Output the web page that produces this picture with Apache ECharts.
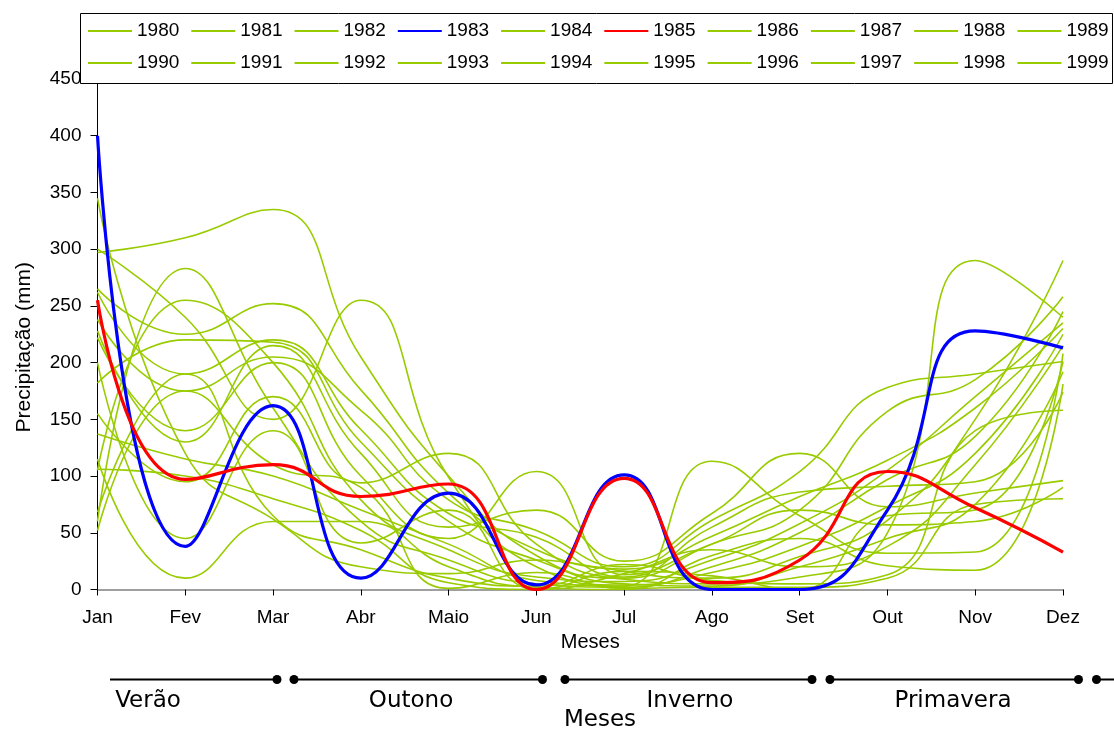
<!DOCTYPE html>
<html>
<head>
<meta charset="utf-8">
<title>Precipitação mensal 1980-1999</title>
<script src="https://cdn.jsdelivr.net/npm/echarts@6/dist/echarts.min.js"></script>
<style>
  html, body { margin: 0; padding: 0; background: #fff; }
  #main { width: 1114px; height: 731px; }
</style>
</head>
<body>
<div id="main"></div>
<script>
// months on the x axis
var months = ['Jan', 'Fev', 'Mar', 'Abr', 'Maio', 'Jun', 'Jul', 'Ago', 'Set', 'Out', 'Nov', 'Dez'];
var years = ['1980', '1981', '1982', '1983', '1984', '1985', '1986', '1987', '1988', '1989',
             '1990', '1991', '1992', '1993', '1994', '1995', '1996', '1997', '1998', '1999'];

// monthly rainfall (mm)
var p1980 = [297, 310, 335, 205, 100, 30, 10, 40, 70, 157, 185, 258];
var p1981 = [60, 283, 160, 60, 26, 5, 2, 20, 50, 97, 135, 245];
var p1982 = [105, 255, 200, 79, 35, 11, 7, 26, 58, 105, 170, 235];
var p1983 = [400, 38, 162, 10, 85, 4, 101, 0, 0, 70, 228, 213];
var p1984 = [265, 225, 252, 176, 85, 35, 16, 10, 29, 61, 150, 290];
var p1985 = [255, 97, 110, 82, 93, 0, 98, 6, 26, 104, 72, 33];
var p1986 = [345, 120, 62, 20, 14, 26, 18, 47, 82, 114, 160, 230];
var p1987 = [300, 240, 150, 255, 99, 20, 4, 15, 38, 73, 120, 225];
var p1988 = [262, 190, 220, 141, 67, 46, 11, 55, 86, 91, 95, 174];
var p1989 = [238, 175, 205, 158, 79, 52, 20, 61, 104, 178, 190, 201];
var p1990 = [228, 130, 215, 120, 55, 70, 25, 67, 120, 73, 85, 96];
var p1991 = [222, 140, 200, 100, 45, 104, 13, 40, 70, 57, 60, 90];
var p1992 = [182, 220, 218, 130, 60, 26, 5, 3, 20, 45, 75, 192];
var p1993 = [155, 95, 170, 94, 120, 40, 9, 5, 11, 50, 290, 240];
var p1994 = [137, 115, 100, 70, 40, 8, 3, 113, 65, 32, 33, 208];
var p1995 = [115, 10, 60, 60, 20, 2, 0, 30, 45, 21, 17, 181];
var p1996 = [106, 100, 80, 52, 6, 0, 14, 35, 20, 38, 110, 215];
var p1997 = [68, 190, 65, 35, 10, 3, 22, 8, 5, 13, 140, 158];
var p1998 = [52, 175, 110, 90, 1, 15, 1, 2, 2, 10, 75, 80];
var p1999 = [200, 45, 140, 41, 70, 0, 16, 12, 0, 65, 70, 201];

var precip = [p1980, p1981, p1982, p1983, p1984, p1985, p1986, p1987, p1988, p1989,
              p1990, p1991, p1992, p1993, p1994, p1995, p1996, p1997, p1998, p1999];

var seasons = ['Verão', 'Outono', 'Inverno', 'Primavera'];

var GREEN = '#99cc00';
var FONT = '"Liberation Sans", Arial, sans-serif';
var SEASON_FONT = '"DejaVu Sans", sans-serif';

var series = years.map(function (y, i) {
    var color = GREEN, width = 1.6, z = 2;
    if (y === '1983') { color = '#0000ff'; width = 3.2; z = 3; }
    if (y === '1985') { color = '#ff0000'; width = 3.2; z = 4; }
    return {
        name: y,
        type: 'line',
        data: precip[i],
        smooth: 0.5,
        symbol: 'none',
        z: z,
        lineStyle: { color: color, width: width },
        itemStyle: { color: color }
    };
});

// season bar under the chart: line segments with dots at the ends
var LINE_Y = 679.5;
var segs = [[110, 277, false, true], [294, 542.5, true, true], [565, 812, true, true],
            [830, 1078.5, true, true], [1096.5, 1114, true, false]];
var graphics = [{
    type: 'rect', z: 3,
    shape: { x: 80.5, y: 13.5, width: 1032, height: 70 },
    style: { fill: '#fff', stroke: '#000', lineWidth: 1 }
}];
segs.forEach(function (s) {
    graphics.push({ type: 'line', shape: { x1: s[0], y1: LINE_Y, x2: s[1], y2: LINE_Y },
                    style: { stroke: '#000', lineWidth: 2 } });
    if (s[2]) graphics.push({ type: 'circle', shape: { cx: s[0], cy: LINE_Y, r: 4.5 }, style: { fill: '#000' } });
    if (s[3]) graphics.push({ type: 'circle', shape: { cx: s[1], cy: LINE_Y, r: 4.5 }, style: { fill: '#000' } });
});
var seasonX = [148, 411, 690, 953];
seasons.forEach(function (name, i) {
    graphics.push({ type: 'text', x: seasonX[i], y: 701,
        style: { text: name, font: '23px ' + SEASON_FONT, fill: '#000', align: 'center', verticalAlign: 'middle' } });
});
graphics.push({ type: 'text', x: 600, y: 720,
    style: { text: 'Meses', font: '23px ' + SEASON_FONT, fill: '#000', align: 'center', verticalAlign: 'middle' } });

var myChart = echarts.init(document.getElementById('main'));

var option = {
    animation: false,
    backgroundColor: '#fff',
    textStyle: { fontFamily: FONT },
    grid: { left: 97.5, right: 51, top: 79, bottom: 141.5, containLabel: false },
    legend: {
        data: years,
        left: 87, top: 20.5,
        width: 1060,
        padding: 0,
        itemWidth: 44, itemHeight: 14,
        itemGap: 11,
        z: 6,
        itemStyle: { opacity: 0 },
        textStyle: { fontFamily: FONT, fontSize: 19, lineHeight: 21, color: '#000' }
    },
    xAxis: {
        type: 'category',
        data: months,
        boundaryGap: false,
        name: 'Meses',
        nameLocation: 'middle',
        nameGap: 42,
        nameTextStyle: { fontFamily: FONT, fontSize: 20, color: '#000', padding: [0, 0, 0, 20] },
        axisLine: { lineStyle: { color: '#808080', width: 1.5 } },
        axisTick: { show: true, length: 6, lineStyle: { color: '#000' } },
        axisLabel: { margin: 19, fontFamily: FONT, fontSize: 19, color: '#000' },
        splitLine: { show: false }
    },
    yAxis: {
        type: 'value',
        min: 0, max: 450, interval: 50,
        name: 'Precipitação (mm)',
        nameLocation: 'middle',
        nameGap: 63,
        nameTextStyle: { fontFamily: FONT, fontSize: 21, color: '#000', padding: [0, 26, 0, 0] },
        axisLine: { show: true, lineStyle: { color: '#000', width: 1 } },
        axisTick: { show: true, length: 7, lineStyle: { color: '#000' } },
        axisLabel: { margin: 16, fontFamily: FONT, fontSize: 19, color: '#000' },
        splitLine: { show: false }
    },
    graphic: graphics,
    series: series
};

myChart.setOption(option);
</script>
</body>
</html>
